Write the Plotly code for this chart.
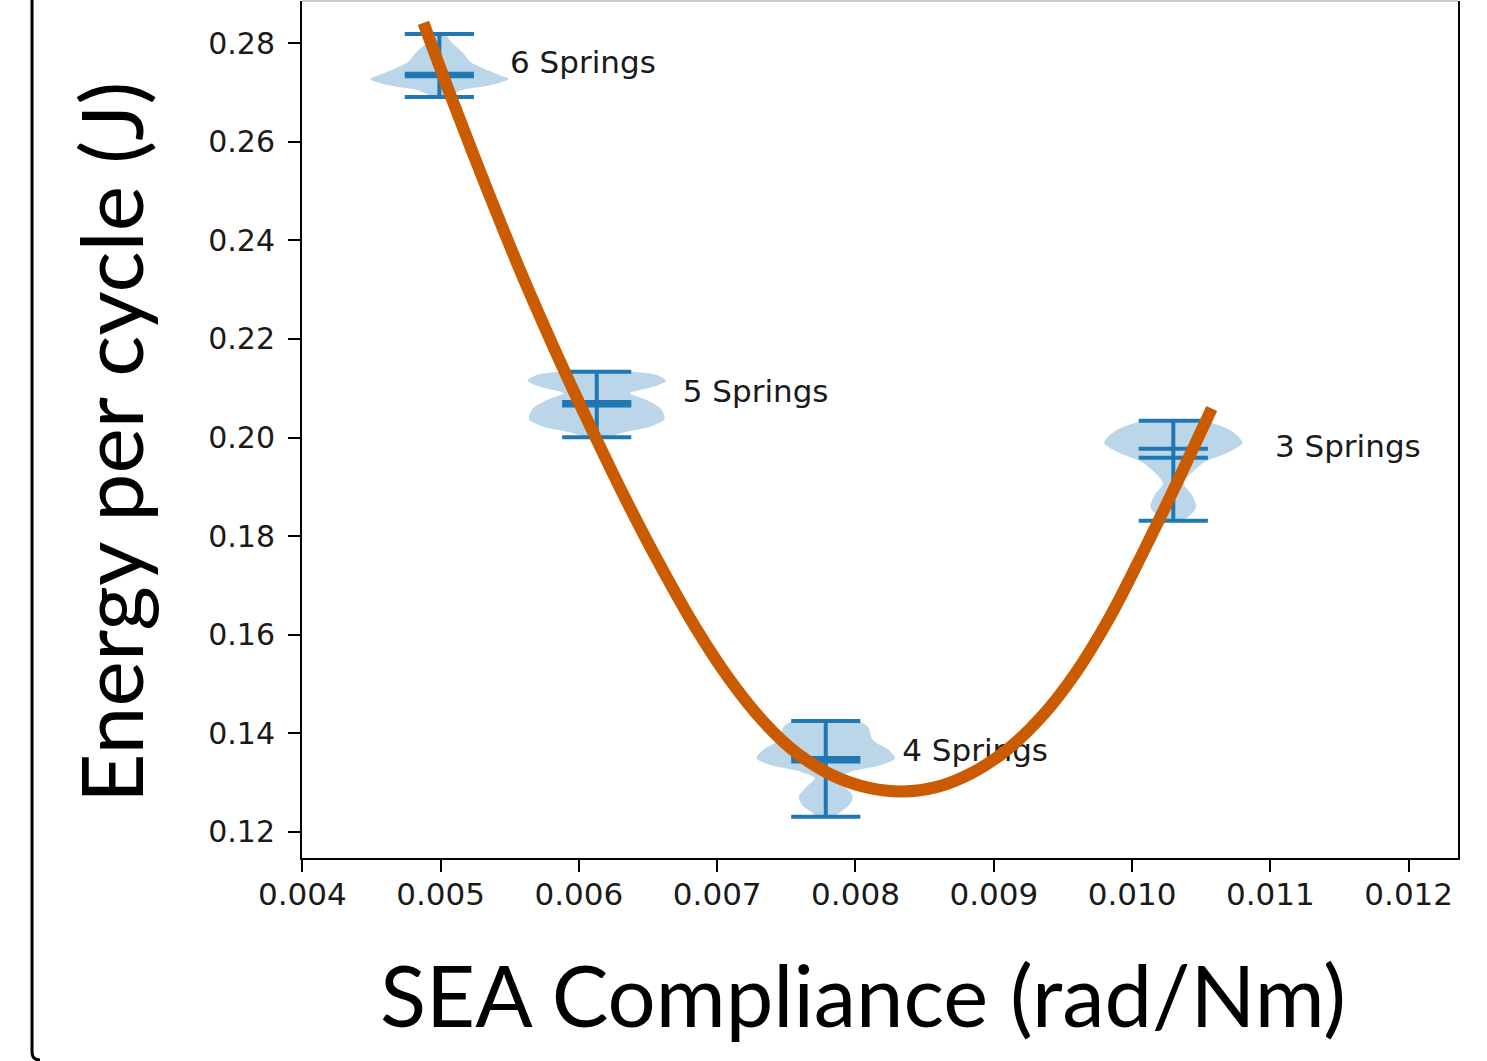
import plotly.graph_objects as go

# ---------------- data ----------------
positions = [0.004991, 0.006129, 0.007785, 0.010298]
labels = ["6 Springs", "5 Springs", "4 Springs", "3 Springs"]
mins = [0.26910, 0.20004, 0.12304, 0.18311]
maxs = [0.28189, 0.21335, 0.14247, 0.20341]
means = [0.27381, 0.20720, 0.13425, 0.19590]
medians = [0.27332, 0.20649, 0.13496, 0.19773]
# where each text label sits (data coordinates of its left-middle point)
label_x = [0.005502, 0.006751, 0.008338, 0.011033]
label_y = [0.27555, 0.20884, 0.13598, 0.19768]

# violin density profiles (energy level, relative width)
prof6_y = [0.26910, 0.26950, 0.27052, 0.27153, 0.27275, 0.27357, 0.27499, 0.27620, 0.27742, 0.27864, 0.28026, 0.28189]
prof6_w = [0.08, 0.14, 0.33, 0.75, 1.00, 0.87, 0.62, 0.45, 0.38, 0.30, 0.17, 0.08]
prof5_y = [0.20004, 0.20118, 0.20219, 0.20376, 0.20593, 0.20761, 0.20897, 0.21031, 0.21153, 0.21268, 0.21335]
prof5_w = [0.15, 0.43, 0.77, 0.98, 0.92, 0.72, 0.48, 0.82, 1.00, 0.87, 0.50]
prof4_y = [0.12304, 0.12406, 0.12542, 0.12710, 0.12913, 0.13084, 0.13218, 0.13354, 0.13490, 0.13658, 0.13861, 0.14131, 0.14247]
prof4_w = [0.12, 0.22, 0.34, 0.39, 0.28, 0.16, 0.36, 0.80, 1.00, 0.91, 0.68, 0.61, 0.46]
prof3_y = [0.18311, 0.18427, 0.18595, 0.18833, 0.19070, 0.19306, 0.19509, 0.19679, 0.19894, 0.20152, 0.20341]
prof3_w = [0.12, 0.25, 0.33, 0.27, 0.15, 0.28, 0.46, 0.77, 1.00, 0.82, 0.40]
profiles_y = [prof6_y, prof5_y, prof4_y, prof3_y]
profiles_w = [prof6_w, prof5_w, prof4_w, prof3_w]

# fitted trend curve
fit_x = [0.004876, 0.005090, 0.005340, 0.005590, 0.005840, 0.006090, 0.006340,
         0.006590, 0.006840, 0.007090, 0.007340, 0.007590, 0.007840, 0.008090,
         0.008340, 0.008590, 0.008840, 0.009090, 0.009340, 0.009590, 0.009840,
         0.010090, 0.010340, 0.010576]
fit_y = [0.28416, 0.26811, 0.25011, 0.23290, 0.21691, 0.20182, 0.18736,
         0.17394, 0.16157, 0.15089, 0.14216, 0.13564, 0.13136, 0.12894,
         0.12816, 0.12910, 0.13189, 0.13649, 0.14316, 0.15214, 0.16360,
         0.17731, 0.19176, 0.20587]

x_ticks = [0.004, 0.005, 0.006, 0.007, 0.008, 0.009, 0.010, 0.011, 0.012]
y_ticks = [0.12, 0.14, 0.16, 0.18, 0.20, 0.22, 0.24, 0.26, 0.28]

# ---------------- style ----------------
VIOLIN_WIDTH = 0.001
BLUE = "#1f77b4"
ORANGE = "#CB5B00"

fig = go.Figure()

# violin bodies
for pos, py, pw in zip(positions, profiles_y, profiles_w):
    half = VIOLIN_WIDTH / 2
    xs = [pos + half * w for w in pw] + [pos - half * w for w in reversed(pw)]
    ys = list(py) + list(reversed(py))
    fig.add_trace(go.Scatter(x=xs, y=ys, mode="lines", fill="toself",
                             fillcolor="rgba(31,119,180,0.3)",
                             line=dict(width=0, shape="spline", smoothing=0.8),
                             hoverinfo="skip", showlegend=False))

# bars: extrema, means, medians and vertical stems
bx, by = [], []
for pos, lo, hi, mn, md in zip(positions, mins, maxs, means, medians):
    q = VIOLIN_WIDTH / 4
    for v in (lo, hi, mn, md):
        bx += [pos - q, pos + q, None]
        by += [v, v, None]
    bx += [pos, pos, None]
    by += [lo, hi, None]
fig.add_trace(go.Scatter(x=bx, y=by, mode="lines", line=dict(color=BLUE, width=4),
                         hoverinfo="skip", showlegend=False))

# labels (drawn below the curve, as in the original)
fig.add_trace(go.Scatter(x=label_x, y=label_y, mode="text", text=labels,
                         textposition="middle right", cliponaxis=False,
                         textfont=dict(family="DejaVu Sans", size=31, color="#1a1a1a"),
                         hoverinfo="skip", showlegend=False))

# fitted curve
fig.add_trace(go.Scatter(x=fit_x, y=fit_y, mode="lines",
                         line=dict(color=ORANGE, width=12, shape="spline", smoothing=1.0),
                         hoverinfo="skip", showlegend=False))

annotations = [
    dict(x=0.4849, y=-0.1587, xref="paper", yref="paper",
         text="SEA Compliance (rad/Nm)", showarrow=False,
         xanchor="center", yanchor="middle",
         font=dict(family="Lato", size=85, color="black")),
    dict(x=-0.167, y=0.4854, xref="paper", yref="paper",
         text="Energy per cycle (J)", showarrow=False, textangle=-90,
         xanchor="center", yanchor="middle",
         font=dict(family="Lato", size=86, color="black")),
]

shapes = [
    # top spine (cropped, faint)
    dict(type="line", xref="paper", yref="paper", x0=0, x1=1, y0=1, y1=1,
         line=dict(color="#cccccc", width=2)),
    # outer frame edge on the left, with its rounded bottom corner
    dict(type="path", xref="paper", yref="paper",
         path="M -0.23356 1.012 L -0.23356 -0.22637 Q -0.23356 -0.23571 -0.22664 -0.23571",
         line=dict(color="black", width=3)),
]

fig.update_layout(
    width=1487, height=1061,
    margin=dict(l=302, r=29, t=1, b=203),
    paper_bgcolor="white", plot_bgcolor="white",
    showlegend=False,
    annotations=annotations,
    shapes=shapes,
    xaxis=dict(range=[0.0039978, 0.0123566], tickvals=x_ticks, tickformat=".3f",
               showgrid=False, zeroline=False, showline=True, linecolor="black", linewidth=2,
               ticks="outside", ticklen=12, tickwidth=2, tickcolor="black",
               ticklabelstandoff=-4,
               tickfont=dict(family="DejaVu Sans", size=31, color="#1a1a1a")),
    yaxis=dict(range=[0.114664, 0.288584], tickvals=y_ticks, tickformat=".2f",
               showgrid=False, zeroline=False, showline=True, mirror=True,
               linecolor="black", linewidth=2,
               ticks="outside", ticklen=12, tickwidth=2, tickcolor="black",
               ticklabelstandoff=7,
               tickfont=dict(family="DejaVu Sans", size=30, color="#1a1a1a")),
)

fig.write_html("out.html", config={"displayModeBar": False},
               post_script="document.body.style.margin='0';")
